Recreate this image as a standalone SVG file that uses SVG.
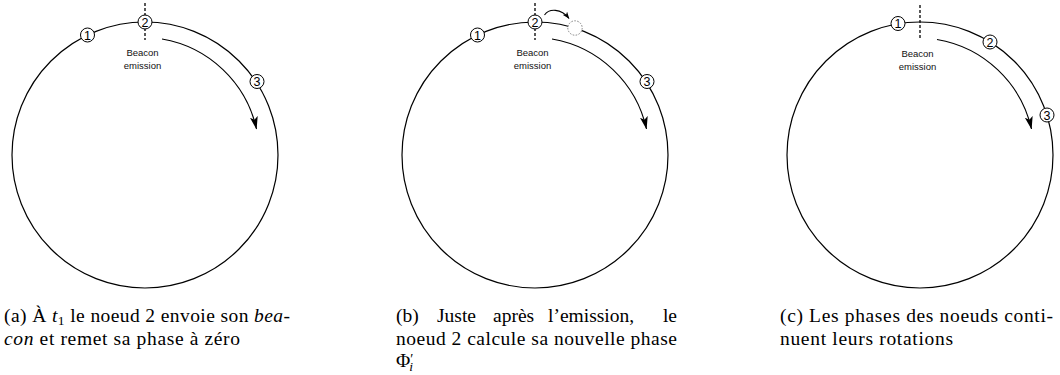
<svg xmlns="http://www.w3.org/2000/svg" width="1060" height="375" viewBox="0 0 1060 375">
<style>
.ring{fill:none;stroke:#000;stroke-width:1.2}
.node{fill:#fff;stroke:#000;stroke-width:1}
.ghost{fill:#fff;stroke:#777;stroke-width:0.9;stroke-dasharray:1.6 1.4}
.num{font-family:"Liberation Sans",Arial,sans-serif;font-size:12.5px;text-anchor:middle;fill:#000}
.lbl{font-family:"Liberation Sans",Arial,sans-serif;font-size:9.5px;text-anchor:middle;fill:#111}
.dash{stroke:#000;stroke-width:1.3;stroke-dasharray:3 2}
.arc{fill:none;stroke:#000;stroke-width:1.1}
.cap{font-family:"Liberation Serif","Times New Roman",serif;font-size:19.5px;fill:#000}
</style>
<defs>
<marker id="ah" viewBox="0 0 13 8" refX="12.5" refY="4" markerWidth="13" markerHeight="8" markerUnits="userSpaceOnUse" orient="auto">
<path d="M0,0 L13,4 L0,8 L3,4 Z" fill="#000"/>
</marker>
<marker id="ahs" viewBox="0 0 8 6" refX="7.5" refY="3" markerWidth="7" markerHeight="5.5" markerUnits="userSpaceOnUse" orient="auto">
<path d="M0,0 L8,3 L0,6 L2,3 Z" fill="#000"/>
</marker>
</defs>

<g id="connectors">
<path class="arc" d="M162,39 A117,117 0 0 1 256.5,129" marker-end="url(#ah)"/>
<path class="arc" d="M552,39 A117,117 0 0 1 646.5,129" marker-end="url(#ah)"/>
<path class="arc" d="M937,39.5 A117,117 0 0 1 1031.5,129" marker-end="url(#ah)"/>
<path class="arc" d="M544.5,15 C549,8.5 561,8 569,18.5" marker-end="url(#ahs)"/>
</g>

<g id="panel-a">
<circle class="ring" cx="145" cy="155" r="133"/>
<line class="dash" x1="145" y1="3" x2="145" y2="40"/>
<text class="lbl" x="142.5" y="56">Beacon</text>
<text class="lbl" x="142.5" y="69">emission</text>
<g id="a-node1"><circle class="node" cx="87.5" cy="35" r="7"/><text class="num" x="87.5" y="39.5">1</text></g>
<g id="a-node2"><circle class="node" cx="145" cy="22" r="7"/><text class="num" x="145" y="26.5">2</text></g>
<g id="a-node3"><circle class="node" cx="257" cy="81.5" r="7"/><text class="num" x="257" y="86">3</text></g>
<text class="cap" x="4" y="322" textLength="286" lengthAdjust="spacing">(a) À <tspan font-style="italic">t</tspan><tspan font-size="13.5" dy="3">1</tspan><tspan dy="-3"> le noeud 2 envoie son </tspan><tspan font-style="italic">bea-</tspan></text>
<text class="cap" x="4" y="345" textLength="236" lengthAdjust="spacing"><tspan font-style="italic">con</tspan> et remet sa phase à zéro</text>
</g>

<g id="panel-b">
<circle class="ring" cx="535" cy="155" r="133"/>
<line class="dash" x1="535" y1="3" x2="535" y2="40"/>
<text class="lbl" x="532.5" y="56">Beacon</text>
<text class="lbl" x="532.5" y="69">emission</text>
<g id="b-ghost"><circle class="ghost" cx="575" cy="28" r="7.2"/></g>
<g id="b-node1"><circle class="node" cx="477.5" cy="35" r="7"/><text class="num" x="477.5" y="39.5">1</text></g>
<g id="b-node2"><circle class="node" cx="535" cy="22" r="7"/><text class="num" x="535" y="26.5">2</text></g>
<g id="b-node3"><circle class="node" cx="647" cy="81.5" r="7"/><text class="num" x="647" y="86">3</text></g>
<text class="cap" x="396" y="322">(b)</text>
<text class="cap" x="437" y="322">Juste</text>
<text class="cap" x="493" y="322">après</text>
<text class="cap" x="548" y="322">l’emission,</text>
<text class="cap" x="677" y="322" text-anchor="end">le</text>
<text class="cap" x="396" y="345" textLength="281" lengthAdjust="spacing">noeud 2 calcule sa nouvelle phase</text>
<text class="cap" x="396" y="367">Φ<tspan font-size="14" dy="-3">′</tspan><tspan font-size="13.5" font-style="italic" dx="-4" dy="7">i</tspan></text>
</g>

<g id="panel-c">
<circle class="ring" cx="920" cy="155" r="133"/>
<line class="dash" x1="920" y1="5" x2="920" y2="40"/>
<text class="lbl" x="917.5" y="57">Beacon</text>
<text class="lbl" x="917.5" y="70">emission</text>
<g id="c-node1"><circle class="node" cx="898" cy="23.5" r="7"/><text class="num" x="898" y="28">1</text></g>
<g id="c-node2"><circle class="node" cx="990" cy="42" r="7"/><text class="num" x="990" y="46.5">2</text></g>
<g id="c-node3"><circle class="node" cx="1047" cy="115" r="7"/><text class="num" x="1047" y="119.5">3</text></g>
<text class="cap" x="780" y="322" textLength="273" lengthAdjust="spacing">(c) Les phases des noeuds conti-</text>
<text class="cap" x="780" y="345" textLength="173" lengthAdjust="spacing">nuent leurs rotations</text>
</g>
</svg>
